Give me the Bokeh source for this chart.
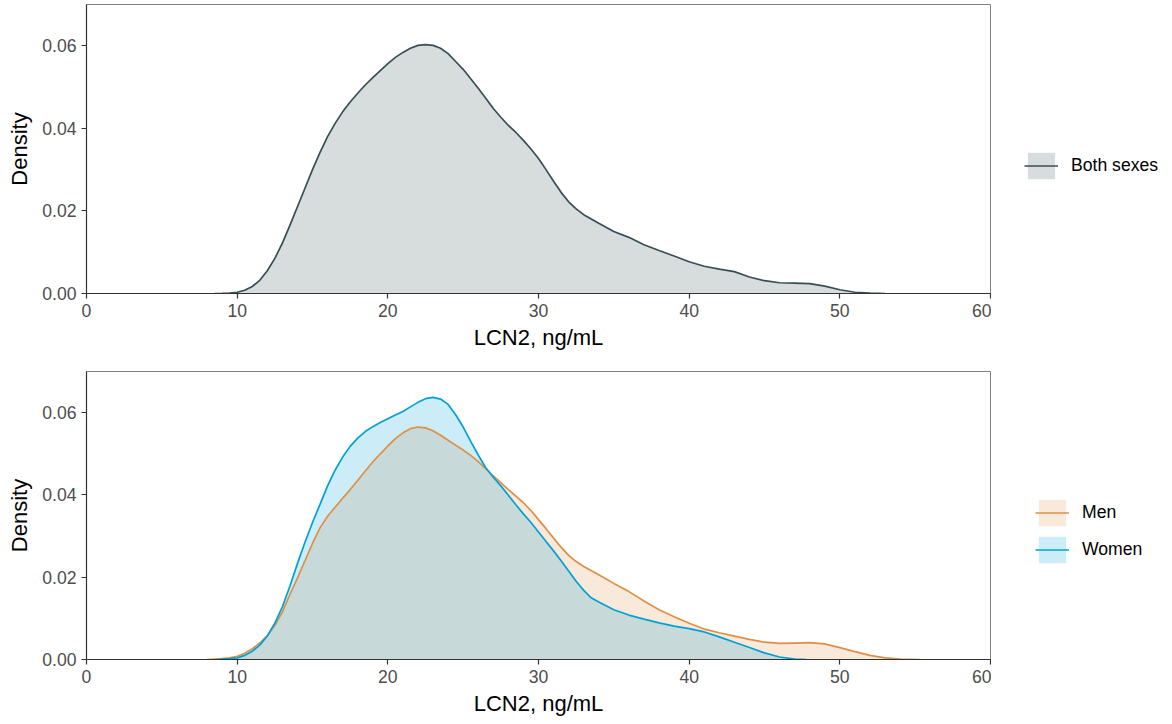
from bokeh.plotting import figure
from bokeh.layouts import column, row
from bokeh.models import Legend, LegendItem, FixedTicker, PrintfTickFormatter, Range1d
from bokeh.embed import file_html
from bokeh.resources import INLINE

# ---- data ----
both_x = [8.5, 9.0, 9.5, 10, 10.5, 11, 11.5, 12, 12.5, 13, 13.5, 14, 14.5, 15, 15.5, 16, 16.5, 17, 17.5,
          18, 18.5, 19, 19.5, 20, 20.5, 21, 21.5, 22, 22.5, 23, 23.5, 24, 24.5, 25, 25.5, 26, 26.5, 27,
          27.5, 28, 28.5, 29, 29.5, 30, 30.5, 31, 31.5, 32, 32.5, 33, 34, 35, 36, 37, 38, 39, 40, 41,
          42, 43, 44, 45, 46, 47, 48, 49, 50, 51, 52, 53]
both_d = [0.0, 0.00003, 0.0001, 0.0003, 0.0008, 0.0017, 0.0032, 0.0055, 0.0085, 0.0122, 0.0165, 0.0210,
          0.0255, 0.0300, 0.0342, 0.0380, 0.0412, 0.0440, 0.0464, 0.0485, 0.0505, 0.0523, 0.0540,
          0.0557, 0.0572, 0.0584, 0.0594, 0.0601, 0.0603, 0.0601, 0.0594, 0.0581, 0.0562, 0.0543,
          0.0520, 0.0497, 0.0473, 0.0448, 0.0427, 0.0407, 0.0390, 0.0371, 0.0350, 0.0327, 0.0300,
          0.0272, 0.0245, 0.0222, 0.0205, 0.0191, 0.0170, 0.0150, 0.0136, 0.0118, 0.0104, 0.0091,
          0.0077, 0.0066, 0.0059, 0.0053, 0.0040, 0.0031, 0.0026, 0.0025, 0.0024, 0.0018, 0.0009,
          0.0003, 0.0001, 0.0]

men_x = [8.0, 8.5, 9, 9.5, 10, 10.5, 11, 11.5, 12, 12.5, 13, 13.5, 14, 14.5, 15, 15.5, 16, 16.5, 17, 17.5,
         18, 18.5, 19, 19.5, 20, 20.5, 21, 21.5, 22, 22.5, 23, 23.5, 24, 24.5, 25, 25.5, 26, 26.5, 27,
         27.5, 28, 28.5, 29, 29.5, 30, 30.5, 31, 31.5, 32, 32.5, 33, 34, 35, 36, 37, 38, 39, 40, 41, 42,
         43, 44, 45, 46, 47, 48, 49, 50, 51, 52, 53, 54, 55.3]
men_d = [0.0, 0.0001, 0.0002, 0.0004, 0.0008, 0.0015, 0.0026, 0.0040, 0.0058, 0.0083, 0.0115, 0.0158,
         0.0198, 0.0240, 0.0282, 0.0320, 0.0348, 0.0370, 0.0392, 0.0413, 0.0435, 0.0458, 0.0480,
         0.0500, 0.0519, 0.0537, 0.0551, 0.0561, 0.0565, 0.0563, 0.0556, 0.0545, 0.0533, 0.0521,
         0.0509, 0.0496, 0.0481, 0.0464, 0.0446, 0.0430, 0.0413, 0.0397, 0.0381, 0.0362, 0.0340,
         0.0318, 0.0295, 0.0273, 0.0253, 0.0238, 0.0226, 0.0206, 0.0185, 0.0165, 0.0142, 0.0121,
         0.0104, 0.0088, 0.0074, 0.0065, 0.0057, 0.0049, 0.0042, 0.0039, 0.0040, 0.0041, 0.0038,
         0.0029, 0.0019, 0.0010, 0.0004, 0.0001, 0.0]

women_x = [8.7, 9, 9.5, 10, 10.5, 11, 11.5, 12, 12.5, 13, 13.5, 14, 14.5, 15, 15.5, 16, 16.5, 17, 17.5,
           18, 18.5, 19, 19.5, 20, 20.5, 21, 21.5, 22, 22.5, 23, 23.5, 24, 24.5, 25, 25.5, 26, 26.5, 27,
           27.5, 28, 28.5, 29, 29.5, 30, 30.5, 31, 31.5, 32, 32.5, 33, 33.5, 34, 35, 36, 37, 38, 39, 40,
           41, 42, 43, 44, 45, 46, 47, 47.8]
women_d = [0.0, 0.0001, 0.0002, 0.0004, 0.0010, 0.0020, 0.0035, 0.0057, 0.0088, 0.0128, 0.0178, 0.0233,
           0.0285, 0.0333, 0.0377, 0.0422, 0.0460, 0.0492, 0.0518, 0.0538, 0.0554, 0.0566, 0.0576,
           0.0585, 0.0594, 0.0603, 0.0614, 0.0625, 0.0634, 0.0637, 0.0633, 0.0620, 0.0595, 0.0565,
           0.0530, 0.0497, 0.0466, 0.0443, 0.0422, 0.0399, 0.0376, 0.0354, 0.0333, 0.0310, 0.0287,
           0.0264, 0.0240, 0.0215, 0.0190, 0.0168, 0.0150, 0.0140, 0.0121, 0.0108, 0.0098, 0.0089,
           0.0081, 0.0075, 0.0067, 0.0055, 0.0042, 0.0029, 0.0016, 0.0006, 0.0001, 0.0]

x_ticks = [0, 10, 20, 30, 40, 50, 60]
y_ticks = [0.0, 0.02, 0.04, 0.06]
x_title = "LCN2, ng/mL"
y_title = "Density"

C_BOTH = "#374E55"
C_MEN = "#DF8F44"
C_WOMEN = "#00A1D5"
FONT = "Liberation Sans"


def base_fig(height, top, bottom):
    p = figure(width=991, height=height, output_backend="svg", toolbar_location=None,
               x_range=Range1d(0, 60), y_range=Range1d(0, 0.07),
               min_border_left=86, min_border_right=1, min_border_top=top, min_border_bottom=bottom)
    p.grid.visible = False
    p.outline_line_color = "#7f7f7f"
    p.outline_line_width = 1
    p.background_fill_color = "white"
    p.border_fill_color = "white"
    p.xaxis.ticker = FixedTicker(ticks=x_ticks)
    p.yaxis.ticker = FixedTicker(ticks=y_ticks)
    p.yaxis.formatter = PrintfTickFormatter(format="%.2f")
    for ax in (p.xaxis, p.yaxis):
        ax.axis_line_color = "#333333"
        ax.axis_line_width = 1.2
        ax.major_tick_line_color = "#333333"
        ax.major_tick_line_width = 1.2
        ax.major_tick_out = 5
        ax.major_tick_in = 0
        ax.minor_tick_line_color = None
        ax.major_label_text_font = FONT
        ax.major_label_text_font_size = "17.6px"
        ax.major_label_text_color = "#4d4d4d"
        ax.axis_label_text_font = FONT
        ax.axis_label_text_font_size = "22px"
        ax.axis_label_text_font_style = "normal"
        ax.axis_label_text_color = "black"
    p.xaxis.major_label_standoff = 5
    p.xaxis.axis_label_standoff = 5
    p.yaxis.major_label_standoff = 5
    p.yaxis.axis_label_standoff = 7
    p.xaxis.axis_label = x_title
    p.yaxis.axis_label = y_title
    return p


def legend_fig(height):
    # separate panel holding only the legend (its own renderers are kept out of view)
    f = figure(width=179, height=height, output_backend="svg", toolbar_location=None,
               x_range=Range1d(1000, 1001), y_range=Range1d(1000, 1001),
               x_axis_location=None, y_axis_location=None,
               min_border_left=0, min_border_right=0, min_border_top=0, min_border_bottom=0)
    f.grid.visible = False
    f.outline_line_color = None
    f.background_fill_color = "white"
    f.border_fill_color = "white"
    return f


def area(p, xs, ds, color):
    return p.varea(x=xs, y1=[0] * len(xs), y2=ds, fill_color=color, fill_alpha=0.2)


def curve(p, xs, ds, color):
    return p.line(x=xs, y=ds, line_color=color, line_width=1.7)


def make_legend(items, loc):
    lg = Legend(items=items, location=loc, orientation="vertical")
    lg.background_fill_alpha = 0
    lg.border_line_color = None
    lg.padding = 0
    lg.margin = 0
    lg.spacing = 4
    lg.glyph_width = 34
    lg.glyph_height = 33
    lg.label_standoff = 13
    lg.label_text_font = FONT
    lg.label_text_font_size = "17.6px"
    lg.label_text_color = "black"
    return lg


# top panel: both sexes
p1 = base_fig(371, 4, 78)
area(p1, both_x, both_d, C_BOTH)
curve(p1, both_x, both_d, C_BOTH)

g1 = legend_fig(371)
ga = area(g1, both_x, both_d, C_BOTH)
gl = curve(g1, both_x, both_d, C_BOTH)
g1.add_layout(make_legend([LegendItem(label="Both sexes", renderers=[ga, gl])], (33, 111)))

# bottom panel: men and women
p2 = base_fig(350, 0, 62)
area(p2, men_x, men_d, C_MEN)
area(p2, women_x, women_d, C_WOMEN)
curve(p2, men_x, men_d, C_MEN)
curve(p2, women_x, women_d, C_WOMEN)

g2 = legend_fig(350)
gma = area(g2, men_x, men_d, C_MEN)
gwa = area(g2, women_x, women_d, C_WOMEN)
gml = curve(g2, men_x, men_d, C_MEN)
gwl = curve(g2, women_x, women_d, C_WOMEN)
g2.add_layout(make_legend([LegendItem(label="Men", renderers=[gma, gml]),
                           LegendItem(label="Women", renderers=[gwa, gwl])], (44, 93)))

layout = column(row(p1, g1, spacing=0), row(p2, g2, spacing=0), spacing=0)
open("out.html", "w").write(file_html(layout, INLINE))
